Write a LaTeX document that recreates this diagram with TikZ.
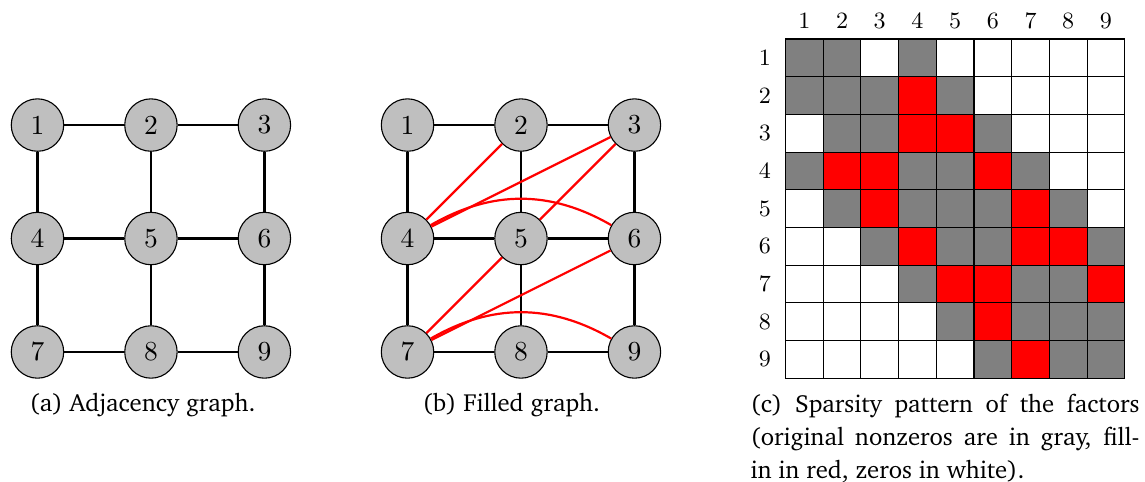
\documentclass[tikz,border=0pt]{standalone}
\usepackage[T1,TU]{fontenc}
\usepackage{tikz}
\usetikzlibrary{positioning}
\colorlet{nz}{gray}
\colorlet{fi}{red}
\colorlet{ze}{white}
\newcommand{\capfont}{\fontencoding{T1}\fontfamily{bch}\fontsize{9}{12}\selectfont}
\tikzstyle{vertex} = [circle, draw, thin, fill=gray!50, minimum size=0.67cm, inner sep=0pt]
\tikzstyle{edge} = [line width=0.8pt]
\tikzstyle{fill_edge} = [line width=0.8pt, red]
\tikzstyle{cell} = [rectangle, draw, thin, minimum size=0.4818cm, inner sep=0pt, outer sep=0pt]
\tikzstyle{caption} = [anchor=base west, inner sep=0pt, font=\capfont]

\begin{document}
\begin{tikzpicture}[node distance=1.45cm]
        \useasboundingbox (0,0) rectangle (14.633,-6.147);

        % (a) adjacency graph
        \node (a1) [vertex] at (0.479,-1.598) {1};
        \node (a2) [vertex, right of=a1] {2};
        \node (a3) [vertex, right of=a2] {3};
        \node (a4) [vertex, below of=a1] {4};
        \node (a5) [vertex, right of=a4] {5};
        \node (a6) [vertex, right of=a5] {6};
        \node (a7) [vertex, below of=a4] {7};
        \node (a8) [vertex, right of=a7] {8};
        \node (a9) [vertex, right of=a8] {9};

        % (b) filled graph
        \node (b1) [vertex] at (5.208,-1.598) {1};
        \node (b2) [vertex, right of=b1] {2};
        \node (b3) [vertex, right of=b2] {3};
        \node (b4) [vertex, below of=b1] {4};
        \node (b5) [vertex, right of=b4] {5};
        \node (b6) [vertex, right of=b5] {6};
        \node (b7) [vertex, below of=b4] {7};
        \node (b8) [vertex, right of=b7] {8};
        \node (b9) [vertex, right of=b8] {9};

        \foreach \g in {a,b}
            \foreach \u/\v in {1/2,2/3,4/5,5/6,7/8,8/9,1/4,4/7,2/5,5/8,3/6,6/9}
                \draw [edge] (\g\u) -- (\g\v);

        \draw [fill_edge] (b4) -- (b2);
        \draw [fill_edge] (b4) -- (b3);
        \draw [fill_edge] (b5) -- (b3);
        \draw [fill_edge] (b7) -- (b5);
        \draw [fill_edge] (b7) -- (b6);
        \draw [fill_edge] (b4) to[bend left=30] (b6);
        \draw [fill_edge] (b7) to[bend left=30] (b9);

        % (c) sparsity pattern
        \foreach \j in {1,...,9}
            \node (col\j) [font=\fontsize{8.5}{10}\selectfont] at ({10.038+(\j-0.5)*0.4818},-0.262) {\j};
        \foreach \row [count=\i] in {{nz,nz,ze,nz,ze,ze,ze,ze,ze},{nz,nz,nz,fi,nz,ze,ze,ze,ze},
                {ze,nz,nz,fi,fi,nz,ze,ze,ze},{nz,fi,fi,nz,nz,fi,nz,ze,ze},{ze,nz,fi,nz,nz,nz,fi,nz,ze},
                {ze,ze,nz,fi,nz,nz,fi,fi,nz},{ze,ze,ze,nz,fi,fi,nz,nz,fi},{ze,ze,ze,ze,nz,fi,nz,nz,nz},
                {ze,ze,ze,ze,ze,nz,fi,nz,nz}} {
            \node (row\i) [font=\fontsize{8.5}{10}\selectfont] at (9.776,{-0.498-(\i-0.5)*0.4818}) {\i};
            \foreach \c [count=\j] in \row
                \node (m\i\j) [cell, fill=\c] at ({10.038+(\j-0.5)*0.4818},{-0.498-(\i-0.5)*0.4818}) {};
        }

        % captions
        \node (cap_a) [caption] at (0.371,-5.265) {(a) Adjacency graph.};
        \node (cap_b) [caption] at (5.393,-5.265) {(b) Filled graph.};
        \node (cap_c) [caption, anchor=north west, text width=4.97cm, align=justify] at (9.585,-5.03)
            {(c) Sparsity pattern of the factors (original nonzeros are in gray, fill-\linebreak in in red, zeros in white).};
    \end{tikzpicture}
\end{document}
